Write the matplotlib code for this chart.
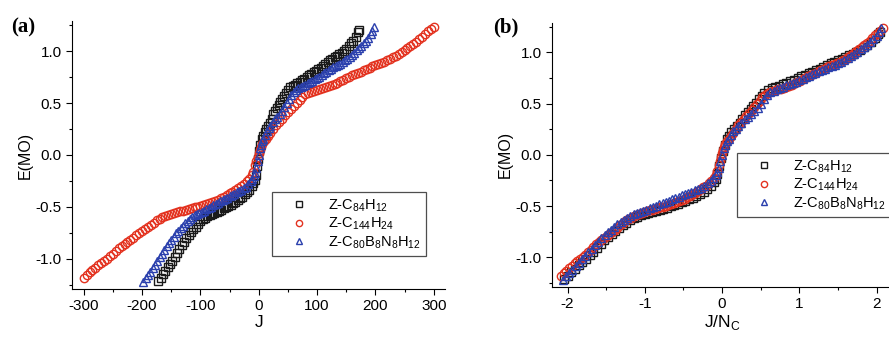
import numpy as np
import matplotlib
matplotlib.use("Agg")
import matplotlib.pyplot as plt
from matplotlib.ticker import MultipleLocator, FormatStrFormatter

plt.rcParams['font.family'] = ['Liberation Sans', 'DejaVu Sans']
plt.rcParams['axes.unicode_minus'] = False

# carbon counts used to normalise J in panel (b)
nc_c84 = 84
nc_c144 = 144
nc_bn = 96

# Z-C84H12 (black squares)
j_c84 = [-172, -168, -164, -160, -156, -152, -148, -144, -140, -136, -132, -128,
         -124, -120, -116, -112, -108, -104, -100, -96, -92, -88, -84, -80,
         -76, -72, -68, -64, -60, -56, -52, -48, -44, -40, -36, -32, -28, -24,
         -20, -16, -12, -9, -7, -5, -3, -1, 1, 3, 5, 7, 10, 13, 16, 19, 22,
         25, 28, 31, 34, 37, 40, 43, 46, 50, 54, 58, 62, 66, 70, 74, 78, 82,
         86, 90, 94, 98, 102, 106, 110, 114, 118, 122, 126, 130, 134, 138,
         142, 146, 150, 154, 158, 162, 166, 170, 172]
e_c84 = [-1.215, -1.18, -1.145, -1.115, -1.08, -1.05, -1.02, -0.98, -0.945,
         -0.905, -0.87, -0.835, -0.80, -0.77, -0.74, -0.715, -0.69, -0.665,
         -0.64, -0.62, -0.605, -0.592, -0.58, -0.567, -0.555, -0.545, -0.535,
         -0.525, -0.515, -0.503, -0.49, -0.478, -0.465, -0.45, -0.435, -0.418,
         -0.40, -0.38, -0.36, -0.335, -0.30, -0.27, -0.24, -0.19, -0.11,
         -0.035, 0.035, 0.10, 0.15, 0.18, 0.22, 0.25, 0.28, 0.31, 0.35, 0.39,
         0.42, 0.45, 0.48, 0.51, 0.54, 0.57, 0.60, 0.63, 0.65, 0.66, 0.675,
         0.69, 0.705, 0.72, 0.735, 0.75, 0.765, 0.78, 0.795, 0.81, 0.825,
         0.84, 0.86, 0.88, 0.895, 0.91, 0.925, 0.94, 0.955, 0.97, 0.985,
         1.00, 1.02, 1.05, 1.075, 1.10, 1.14, 1.18, 1.20]

# Z-C144H24 (red circles)
j_c144 = [-300, -295, -290, -285, -280, -275, -270, -265, -260, -255, -250,
          -245, -240, -235, -230, -225, -220, -215, -210, -205, -200, -195,
          -190, -185, -180, -175, -170, -165, -160, -155, -150, -145, -140,
          -135, -130, -125, -120, -115, -110, -105, -100, -95, -90, -85, -80,
          -75, -70, -65, -60, -55, -50, -45, -40, -35, -30, -25, -20, -16,
          -12, -9, -6, -4, -2, 0, 2, 4, 6, 9, 12, 16, 20, 25, 30, 35, 40, 45,
          50, 55, 60, 65, 70, 75, 80, 85, 90, 95, 100, 105, 110, 115, 120,
          125, 130, 135, 140, 145, 150, 155, 160, 165, 170, 175, 180, 185,
          190, 195, 200, 205, 210, 215, 220, 225, 230, 235, 240, 245, 250,
          255, 260, 265, 270, 275, 280, 285, 290, 295, 300]
e_c144 = [-1.18, -1.155, -1.13, -1.105, -1.085, -1.06, -1.04, -1.02, -1.00,
          -0.975, -0.95, -0.925, -0.90, -0.875, -0.855, -0.835, -0.815,
          -0.795, -0.775, -0.75, -0.73, -0.71, -0.69, -0.67, -0.65, -0.63,
          -0.615, -0.60, -0.585, -0.575, -0.565, -0.557, -0.55, -0.542,
          -0.535, -0.527, -0.52, -0.512, -0.505, -0.497, -0.49, -0.482,
          -0.475, -0.465, -0.455, -0.443, -0.43, -0.415, -0.40, -0.385,
          -0.37, -0.353, -0.335, -0.318, -0.30, -0.28, -0.255, -0.23, -0.195,
          -0.16, -0.10, -0.06, -0.02, 0.02, 0.05, 0.08, 0.11, 0.135, 0.155,
          0.18, 0.21, 0.25, 0.29, 0.32, 0.35, 0.38, 0.41, 0.44, 0.47, 0.50,
          0.53, 0.56, 0.585, 0.60, 0.61, 0.62, 0.63, 0.638, 0.645, 0.652,
          0.66, 0.672, 0.685, 0.697, 0.71, 0.725, 0.74, 0.752, 0.765, 0.777,
          0.79, 0.802, 0.815, 0.828, 0.84, 0.853, 0.865, 0.875, 0.885, 0.897,
          0.91, 0.925, 0.94, 0.957, 0.975, 0.992, 1.01, 1.03, 1.05, 1.07,
          1.09, 1.115, 1.14, 1.165, 1.19, 1.21, 1.235]

# Z-C80B8N8H12 (blue triangles)
j_bn = [-198, -194, -190, -186, -182, -178, -174, -170, -166, -162, -158, -154,
        -150, -146, -142, -138, -134, -130, -126, -122, -118, -114, -110, -106,
        -102, -98, -94, -90, -86, -82, -78, -74, -70, -66, -62, -58, -54, -50,
        -46, -42, -38, -34, -30, -26, -22, -18, -14, -11, -8, -6, -4, -2, 0,
        2, 4, 6, 8, 11, 14, 17, 20, 24, 28, 32, 36, 40, 44, 48, 52, 56, 60,
        64, 68, 72, 76, 80, 84, 88, 92, 96, 100, 104, 108, 112, 116, 120,
        124, 128, 132, 136, 140, 144, 148, 152, 156, 160, 164, 168, 172, 176,
        180, 184, 188, 192, 195, 198]
e_bn = [-1.22, -1.185, -1.155, -1.125, -1.09, -1.055, -1.02, -0.985, -0.95,
        -0.915, -0.88, -0.85, -0.815, -0.785, -0.755, -0.73, -0.705, -0.68,
        -0.655, -0.635, -0.615, -0.598, -0.582, -0.567, -0.555, -0.545,
        -0.535, -0.522, -0.51, -0.497, -0.485, -0.47, -0.46, -0.447, -0.435,
        -0.422, -0.41, -0.397, -0.385, -0.372, -0.36, -0.347, -0.335, -0.322,
        -0.305, -0.28, -0.255, -0.23, -0.20, -0.17, -0.13, -0.06, 0.0, 0.065,
        0.10, 0.13, 0.155, 0.19, 0.23, 0.255, 0.28, 0.315, 0.345, 0.37,
        0.395, 0.425, 0.46, 0.50, 0.54, 0.58, 0.61, 0.625, 0.64, 0.652,
        0.665, 0.677, 0.69, 0.702, 0.715, 0.727, 0.74, 0.755, 0.77, 0.785,
        0.80, 0.815, 0.83, 0.842, 0.855, 0.867, 0.88, 0.895, 0.91, 0.927,
        0.945, 0.965, 0.985, 1.007, 1.03, 1.052, 1.075, 1.10, 1.13, 1.16,
        1.195, 1.235]

labels = [r'Z-C$_{\mathregular{84}}$H$_{\mathregular{12}}$',
          r'Z-C$_{\mathregular{144}}$H$_{\mathregular{24}}$',
          r'Z-C$_{\mathregular{80}}$B$_{\mathregular{8}}$N$_{\mathregular{8}}$H$_{\mathregular{12}}$']
colors = ['#1a1a1a', '#e3321f', '#2b40ad']
markers = ['s', 'o', '^']


def style_axes(ax, xmajor, xminor):
    ax.spines['top'].set_visible(False)
    ax.spines['right'].set_visible(False)
    ax.set_ylim(-1.29, 1.29)
    ax.yaxis.set_major_locator(MultipleLocator(0.5))
    ax.yaxis.set_minor_locator(MultipleLocator(0.25))
    ax.yaxis.set_major_formatter(FormatStrFormatter('%.1f'))
    ax.xaxis.set_major_locator(MultipleLocator(xmajor))
    ax.xaxis.set_minor_locator(MultipleLocator(xminor))
    ax.tick_params(which='major', direction='out', length=4, width=0.8,
                   labelsize=11)
    ax.tick_params(which='minor', direction='out', length=2.5, width=0.8)
    ax.set_ylabel('E(MO)', fontsize=11.5, labelpad=2)


def draw_series(ax, xs):
    ys = [e_c84, e_c144, e_bn]
    for x, y, c, m, lab in zip(xs, ys, colors, markers, labels):
        ax.plot(x, y, linestyle='none', marker=m, markersize=6,
                markerfacecolor='none', markeredgecolor=c,
                markeredgewidth=1.0, label=lab)


def add_legend(ax, anchor):
    leg = ax.legend(loc='lower left', bbox_to_anchor=anchor,
                    fontsize=10.5, frameon=True, fancybox=False,
                    edgecolor='#222222', handletextpad=0.5, labelspacing=0.12,
                    borderpad=0.35, handlelength=3.0, markerscale=0.75,
                    borderaxespad=0)
    leg.get_frame().set_linewidth(0.9)
    return leg


fig = plt.figure(figsize=(8.89, 3.38), dpi=100)

# panel (a)
ax1 = fig.add_axes([0.081, 0.145, 0.42, 0.793])
draw_series(ax1, [j_c84, j_c144, j_bn])
style_axes(ax1, 100, 50)
ax1.set_xlim(-320, 320)
ax1.set_xlabel('J', fontsize=12.5, labelpad=1)
add_legend(ax1, (0.536, 0.123))
fig.text(0.012, 0.905, '(a)', fontsize=15, fontweight='bold',
         family='Liberation Serif')

# panel (b)
xn_c84 = np.array(j_c84) / nc_c84
xn_c144 = np.array(j_c144) / nc_c144
xn_bn = np.array(j_bn) / nc_bn
ax2 = fig.add_axes([0.621, 0.151, 0.3825, 0.782])
draw_series(ax2, [xn_c84, xn_c144, xn_bn])
style_axes(ax2, 1, 0.5)
ax2.set_xlim(-2.2, 2.2)
ax2.set_xlabel(r'J/N$_{\mathregular{C}}$', fontsize=12.5, labelpad=1)
add_legend(ax2, (0.544, 0.265))
fig.text(0.555, 0.905, '(b)', fontsize=15, fontweight='bold',
         family='Liberation Serif')

fig.savefig('out.png', dpi=100)
